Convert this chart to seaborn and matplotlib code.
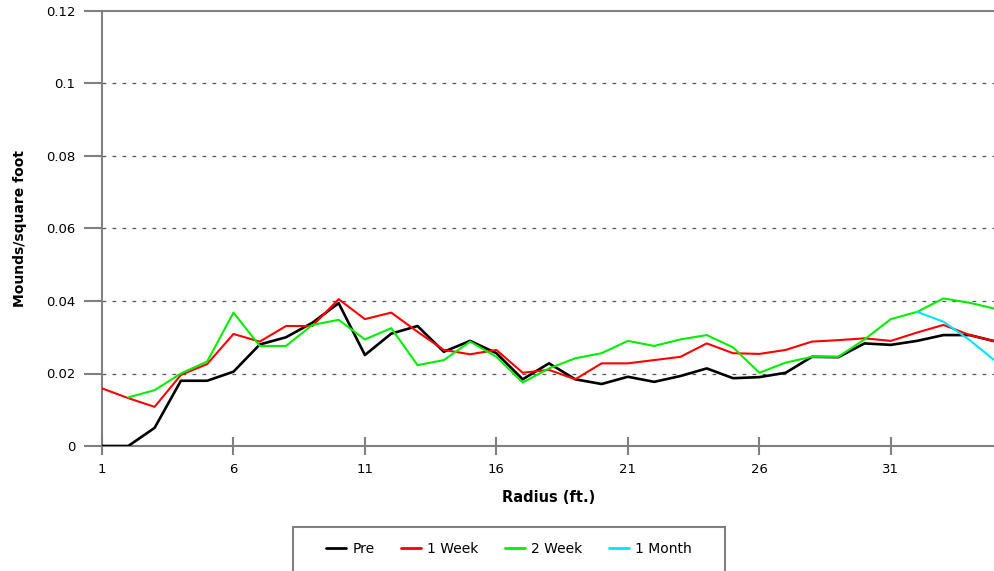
import matplotlib
matplotlib.use("Agg")
import matplotlib.pyplot as plt
from matplotlib.patches import Rectangle
from matplotlib.lines import Line2D
import numpy as np
import pandas as pd
import seaborn as sns

# Radius positions (ft.)
radius = list(range(1, 36))

pre = [0.0, 0.0, 0.005, 0.018, 0.018, 0.0205, 0.028, 0.030, 0.034, 0.0394,
       0.0251, 0.031, 0.0331, 0.026, 0.029, 0.0256, 0.0184, 0.0228, 0.0184, 0.0171,
       0.0191, 0.0177, 0.0193, 0.0214, 0.0187, 0.019, 0.0202, 0.0246, 0.0245, 0.0283,
       0.0279, 0.029, 0.0306, 0.0306, 0.0288]
week1 = [0.0159, 0.0132, 0.0108, 0.0196, 0.0226, 0.0309, 0.0288, 0.0331, 0.0331, 0.0405,
         0.035, 0.0368, 0.0315, 0.0265, 0.0253, 0.0265, 0.0202, 0.021, 0.0184, 0.0228,
         0.0228, 0.0237, 0.0246, 0.0283, 0.0256, 0.0254, 0.0265, 0.0288, 0.0292, 0.0297,
         0.029, 0.0313, 0.0334, 0.0306, 0.0288]
week2 = [np.nan, 0.0134, 0.0154, 0.020, 0.0233, 0.0368, 0.0276, 0.0276, 0.0334, 0.0348,
         0.0294, 0.0325, 0.0223, 0.0237, 0.0288, 0.0246, 0.0175, 0.0214, 0.0242, 0.0256,
         0.029, 0.0276, 0.0294, 0.0306, 0.0272, 0.0202, 0.023, 0.0246, 0.0246, 0.0294,
         0.035, 0.037, 0.0407, 0.0395, 0.0378]
month1 = [np.nan] * 31 + [0.037, 0.0343, 0.0292, 0.0233]

series_names = ["Pre", "1 Week", "2 Week", "1 Month"]
series_colors = ["#000000", "#ff0000", "#00ee00", "#00e5ff"]
series_widths = [1.9, 1.5, 1.5, 1.5]

y_ticks = [0, 0.02, 0.04, 0.06, 0.08, 0.1, 0.12]
y_tick_labels = ["0", "0.02", "0.04", "0.06", "0.08", "0.1", "0.12"]
x_ticks = [1, 6, 11, 16, 21, 26, 31]

df = pd.DataFrame({
    "Radius": radius * 4,
    "Density": pre + week1 + week2 + month1,
    "Survey": sum([[n] * len(radius) for n in series_names], []),
})

sns.set_theme(style="white")
plt.rcParams["font.family"] = ["DejaVu Sans"]
plt.rcParams["text.color"] = "black"
plt.rcParams["axes.labelcolor"] = "black"
plt.rcParams["xtick.labelcolor"] = "black"
plt.rcParams["ytick.labelcolor"] = "black"

W, H = 994, 571
fig = plt.figure(figsize=(W / 100, H / 100), dpi=100)
ax = fig.add_axes([102 / W, (H - 446) / H, (996 - 102) / W, (446 - 11) / H])

for name, color, lw in zip(series_names, series_colors, series_widths):
    sub = df[df["Survey"] == name].dropna()
    sns.lineplot(data=sub, x="Radius", y="Density", color=color, linewidth=lw,
                 ax=ax, legend=False, zorder=3)

ax.set_xlim(1, 35)
ax.set_ylim(0, 0.12)
ax.set_xticks(x_ticks)
ax.set_xticklabels([str(t) for t in x_ticks], fontsize=9.5)
ax.set_yticks(y_ticks)
ax.set_yticklabels(y_tick_labels, fontsize=9.5)

for y in y_ticks[1:-1]:
    ax.axhline(y, color="#555555", linestyle=(0, (3, 5)), linewidth=0.9, zorder=1)

for side in ["left", "bottom", "top"]:
    ax.spines[side].set_color("#808080")
    ax.spines[side].set_linewidth(1.5)
ax.spines["right"].set_visible(False)

ax.tick_params(axis="y", left=True, direction="out", length=13, width=1.5,
               color="#808080", pad=6, labelcolor="black")
ax.tick_params(axis="x", bottom=True, direction="inout", length=13, width=1.5,
               color="#808080", pad=6, labelcolor="black")

ax.set_xlabel("Radius (ft.)", fontsize=10.5, fontweight="bold", labelpad=10,
              color="black")
ax.set_ylabel("Mounds/square foot", fontsize=10, fontweight="bold", labelpad=14,
              color="black")

# Legend box at the bottom of the figure
fig.patches.append(Rectangle((293 / W, (H - 600) / H), (725 - 293) / W, 73 / H,
                             transform=fig.transFigure, facecolor="white",
                             edgecolor="#808080", linewidth=1.5, zorder=0))
handles = [Line2D([], [], color=c, linewidth=2) for c in series_colors]
fig.legend(handles, series_names, loc="center", bbox_to_anchor=(509 / W, (H - 549) / H),
           ncol=4, frameon=False, fontsize=10, handlelength=1.45, handletextpad=0.45,
           columnspacing=1.9, labelcolor="black")

fig.savefig("out.png", dpi=100)
